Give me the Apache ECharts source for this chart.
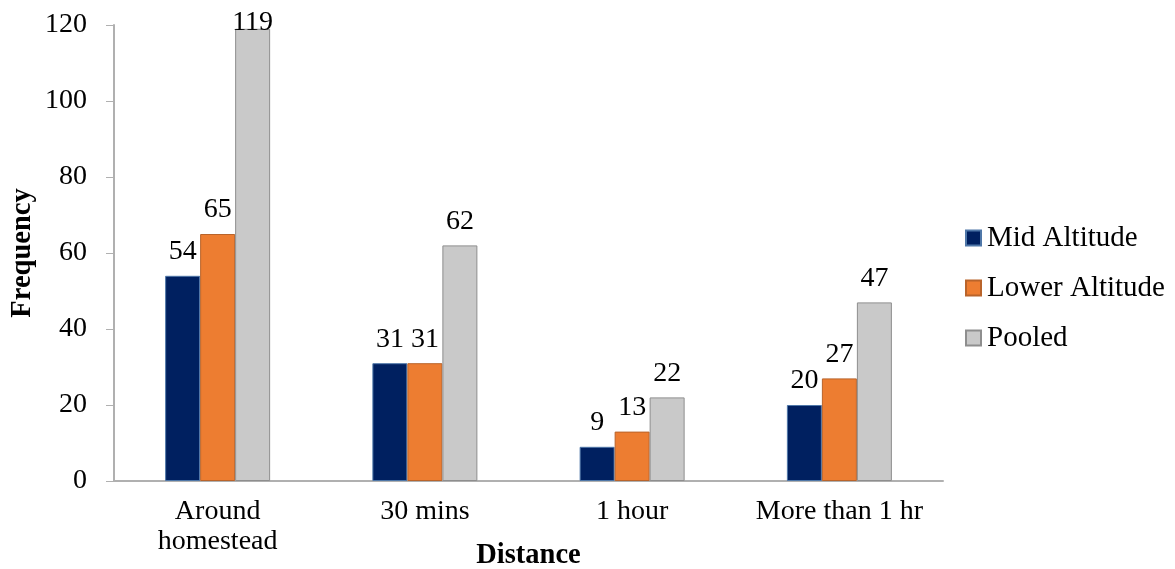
<!DOCTYPE html>
<html>
<head>
<meta charset="utf-8">
<script src="https://cdn.jsdelivr.net/npm/echarts@6/dist/echarts.min.js"></script>
<style>
  html, body { margin: 0; padding: 0; background: #ffffff; }
  #chart { width: 1175px; height: 569px; }
</style>
</head>
<body>
<div id="chart"></div>
<script>
// Distance categories and frequency counts per altitude group
const categories = ['Around\nhomestead', '30 mins', '1 hour', 'More than 1 hr'];
const midAltitude = [54, 31, 9, 20];
const lowerAltitude = [65, 31, 13, 27];
const pooled = [119, 62, 22, 47];
const yTicks = { min: 0, max: 120, interval: 20 };

const FONT = '"Liberation Serif", "Times New Roman", serif';

const chart = echarts.init(document.getElementById('chart'));

// Labels of bars that reach the top of the plot are pulled down onto the bar
function withLabelClamp(data) {
  return data.map(v => v > yTicks.max - 8
    ? { value: v, label: { distance: -8 } }
    : v);
}

function barSeries(name, data, fill, border) {
  return {
    name: name,
    type: 'bar',
    data: withLabelClamp(data),
    barWidth: 35,
    barGap: '0%',
    itemStyle: { color: fill, borderColor: border, borderWidth: 1 },
    label: {
      show: true,
      position: 'top',
      distance: 10,
      color: '#000',
      fontFamily: FONT,
      fontSize: 28
    }
  };
}

chart.setOption({
  animation: false,
  backgroundColor: '#ffffff',
  grid: {
    left: 114, right: 232, top: 25, bottom: 88,
    containLabel: false,
    outerBoundsMode: 'none'
  },
  legend: {
    orient: 'vertical',
    left: 960,
    top: 218,
    itemWidth: 15,
    itemHeight: 15,
    itemGap: 20,
    icon: 'rect',
    textStyle: { fontFamily: FONT, fontSize: 29, lineHeight: 30, color: '#000', padding: [0, 0, 0, 1] },
    data: ['Mid Altitude', 'Lower Altitude', 'Pooled']
  },
  xAxis: {
    type: 'category',
    data: categories,
    name: 'Distance',
    nameLocation: 'middle',
    nameGap: 60,
    nameMoveOverlap: false,
    nameTextStyle: { fontFamily: FONT, fontSize: 28.5, fontWeight: 'bold', color: '#000' },
    axisLine: { lineStyle: { color: '#b0b0b0', width: 2 } },
    axisTick: { show: false },
    axisLabel: { fontFamily: FONT, fontSize: 28, color: '#000', margin: 16, lineHeight: 30, interval: 0 }
  },
  yAxis: {
    type: 'value',
    min: yTicks.min,
    max: yTicks.max,
    interval: yTicks.interval,
    name: 'Frequency',
    nameLocation: 'middle',
    nameGap: 77,
    nameMoveOverlap: false,
    nameTextStyle: { fontFamily: FONT, fontSize: 28.5, fontWeight: 'bold', color: '#000' },
    axisLine: { show: true, lineStyle: { color: '#b0b0b0', width: 2 } },
    axisTick: { show: true, length: 8, lineStyle: { color: '#b0b0b0', width: 1 } },
    splitLine: { show: false },
    axisLabel: { fontFamily: FONT, fontSize: 28, color: '#000', margin: 27 }
  },
  series: [
    barSeries('Mid Altitude', midAltitude, '#002060', '#4f77a8'),
    barSeries('Lower Altitude', lowerAltitude, '#ed7d31', '#b9642b'),
    barSeries('Pooled', pooled, '#c9c9c9', '#8e8e8e')
  ]
});
</script>
</body>
</html>
